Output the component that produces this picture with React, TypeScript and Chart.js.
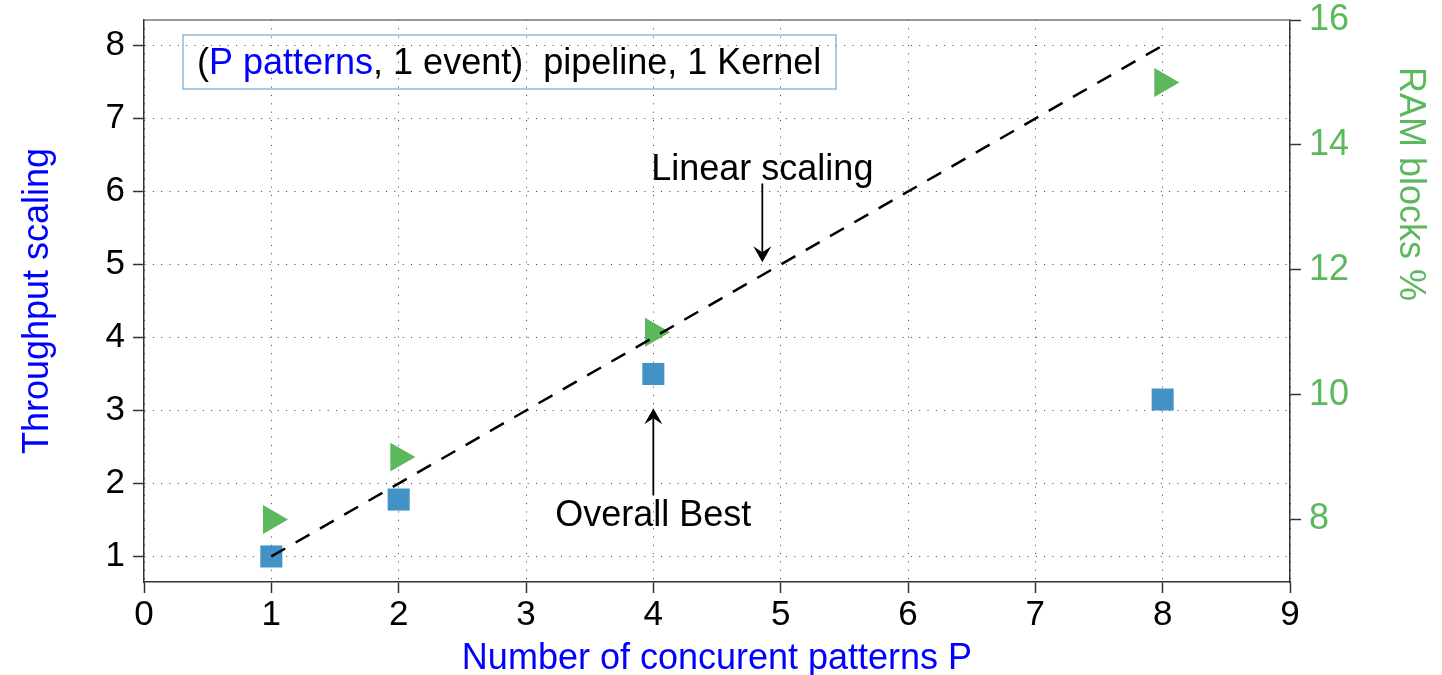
import React, { useEffect, useRef } from "react";
import { Chart, registerables } from "chart.js";

Chart.register(...registerables);

// ---------- data ----------
const patterns = [1, 2, 4, 8];
const throughputScaling = [1.0, 1.78, 3.5, 3.15];
const ramBlocksPct = [8, 9, 11, 15];
const linearScalingX = [1, 8];
const linearScalingY = [1, 8];

const xTickValues = [0, 1, 2, 3, 4, 5, 6, 7, 8, 9];
const leftTickValues = [1, 2, 3, 4, 5, 6, 7, 8];
const rightTickValues = [8, 10, 12, 14, 16];

const xTitle = "Number of concurent patterns P";
const leftTitle = "Throughput scaling";
const rightTitle = "RAM blocks %";
const legendParts = [
  { text: "(", blue: false },
  { text: "P patterns", blue: true },
  { text: ", 1 event)  pipeline, 1 Kernel", blue: false },
];
const annotationTexts = ["Linear scaling", "Overall Best"];
const annotationX = [4.856, 4];
const annotationTextY = [6.16, 1.42];
const annotationFromY = [6.11, 1.84];
const annotationToY = [5.03, 3.03];

// ---------- styles ----------
const FONT = "'Liberation Sans', Arial, Helvetica, sans-serif";
const BLUE_TEXT = "#0000ff";
const SQUARE_BLUE = "#4292c6";
const GREEN = "#5cb85c";
const AXIS_COLOR = "#333333";
const GRID_COLOR = "rgba(0,0,0,0.75)";

function drawArrow(ctx: CanvasRenderingContext2D, x: number, y1: number, y2: number) {
  const dir = Math.sign(y2 - y1) || 1;
  const headLen = 16;
  const headW = 9;
  const notch = 10;
  ctx.beginPath();
  ctx.moveTo(x, y1);
  ctx.lineTo(x, y2 - dir * notch);
  ctx.stroke();
  ctx.beginPath();
  ctx.moveTo(x, y2);
  ctx.lineTo(x - headW, y2 - dir * headLen);
  ctx.lineTo(x, y2 - dir * notch);
  ctx.lineTo(x + headW, y2 - dir * headLen);
  ctx.closePath();
  ctx.fill();
}

const overlayPlugin = {
  id: "overlay",
  afterDraw(chart: any) {
    const { ctx, chartArea, scales } = chart;
    const xs = scales.x;
    const ys = scales.y;
    ctx.save();

    // top frame line
    ctx.strokeStyle = "#777777";
    ctx.lineWidth = 1.5;
    ctx.beginPath();
    ctx.moveTo(chartArea.left, chartArea.top);
    ctx.lineTo(chartArea.right, chartArea.top);
    ctx.stroke();

    // legend box
    const bx = chartArea.left + 39;
    const by = chartArea.top + 15;
    ctx.strokeStyle = "#6fa8d6";
    ctx.lineWidth = 1.2;
    ctx.strokeRect(bx, by, 653, 54);
    ctx.font = `36px ${FONT}`;
    ctx.textBaseline = "alphabetic";
    ctx.textAlign = "left";
    let tx = bx + 14;
    const ty = by + 38.5;
    for (const part of legendParts) {
      ctx.fillStyle = part.blue ? BLUE_TEXT : "#000000";
      ctx.fillText(part.text, tx, ty);
      tx += ctx.measureText(part.text).width;
    }

    // annotations
    ctx.fillStyle = "#000000";
    ctx.strokeStyle = "#000000";
    ctx.lineWidth = 1.8;
    ctx.textAlign = "center";
    for (let i = 0; i < annotationTexts.length; i++) {
      const px = xs.getPixelForValue(annotationX[i]);
      ctx.fillText(annotationTexts[i], px, ys.getPixelForValue(annotationTextY[i]));
      drawArrow(ctx, px, ys.getPixelForValue(annotationFromY[i]), ys.getPixelForValue(annotationToY[i]));
    }

    // axis titles
    ctx.font = `36px ${FONT}`;
    ctx.fillStyle = BLUE_TEXT;
    ctx.textAlign = "center";
    ctx.fillText(xTitle, (chartArea.left + chartArea.right) / 2, 669);

    ctx.save();
    ctx.translate(47.5, (chartArea.top + chartArea.bottom) / 2);
    ctx.rotate(-Math.PI / 2);
    ctx.fillText(leftTitle, 0, 0);
    ctx.restore();

    ctx.save();
    ctx.fillStyle = GREEN;
    ctx.translate(1400, 184);
    ctx.rotate(Math.PI / 2);
    ctx.fillText(rightTitle, 0, 0);
    ctx.restore();

    ctx.restore();
  },
};

export default function App() {
  const canvasRef = useRef<HTMLCanvasElement | null>(null);

  useEffect(() => {
    const canvas = canvasRef.current;
    if (!canvas) return;
    Chart.defaults.font.family = FONT;

    const chart = new Chart(canvas, {
      type: "scatter",
      data: {
        datasets: [
          {
            type: "line",
            label: "Linear scaling",
            data: linearScalingX.map((x, i) => ({ x, y: linearScalingY[i] })),
            borderColor: "#000000",
            borderWidth: 2.5,
            borderDash: [16, 12],
            pointRadius: 0,
            fill: false,
            yAxisID: "y",
          } as any,
          {
            label: "Throughput scaling",
            data: patterns.map((x, i) => ({ x, y: throughputScaling[i] })),
            pointStyle: "rect",
            pointRadius: 15.6,
            pointBackgroundColor: SQUARE_BLUE,
            backgroundColor: SQUARE_BLUE,
            pointBorderWidth: 0,
            borderWidth: 0,
            yAxisID: "y",
          },
          {
            label: "RAM blocks %",
            data: patterns.map((x, i) => ({ x, y: ramBlocksPct[i] })),
            pointStyle: "triangle",
            pointRotation: 90,
            pointRadius: 16.7,
            pointBackgroundColor: GREEN,
            backgroundColor: GREEN,
            pointBorderWidth: 0,
            borderWidth: 0,
            yAxisID: "y1",
          },
        ],
      },
      options: {
        animation: false,
        responsive: false,
        devicePixelRatio: 1,
        events: [],
        layout: { padding: { top: 20, left: 0, right: 0, bottom: 0 } },
        plugins: {
          legend: { display: false },
          tooltip: { enabled: false },
          title: { display: false },
        },
        scales: {
          x: {
            type: "linear",
            position: "bottom",
            min: 0,
            max: 9,
            afterBuildTicks: (s: any) => {
              s.ticks = xTickValues.map((v) => ({ value: v }));
            },
            afterFit: (s: any) => {
              s.height = 93;
              s.paddingLeft = 0;
              s.paddingRight = 0;
            },
            ticks: {
              color: "#000000",
              font: { size: 35 },
              padding: 1,
              autoSkip: false,
              maxRotation: 0,
            },
            grid: {
              color: GRID_COLOR,
              lineWidth: 1,
              drawTicks: true,
              tickLength: 11,
              tickColor: AXIS_COLOR,
              tickWidth: 1.5,
              tickBorderDash: [],
            },
            border: { display: true, color: AXIS_COLOR, width: 1.5, dash: [1, 7.33] },
          },
          y: {
            type: "linear",
            position: "left",
            min: 0.65,
            max: 8.35,
            afterBuildTicks: (s: any) => {
              s.ticks = leftTickValues.map((v) => ({ value: v }));
            },
            afterFit: (s: any) => {
              s.width = 144;
              s.paddingTop = 0;
              s.paddingBottom = 0;
            },
            ticks: {
              color: "#000000",
              font: { size: 35 },
              padding: 8,
              autoSkip: false,
            },
            grid: {
              color: GRID_COLOR,
              lineWidth: 1,
              drawTicks: true,
              tickLength: 11,
              tickColor: AXIS_COLOR,
              tickWidth: 1.5,
              tickBorderDash: [],
            },
            border: { display: true, color: AXIS_COLOR, width: 1.5, dash: [1, 7.33] },
          },
          y1: {
            type: "linear",
            position: "right",
            min: 7,
            max: 16,
            afterBuildTicks: (s: any) => {
              s.ticks = rightTickValues.map((v) => ({ value: v }));
            },
            afterFit: (s: any) => {
              s.width = 152;
              s.paddingTop = 0;
              s.paddingBottom = 0;
            },
            ticks: {
              color: GREEN,
              font: { size: 36 },
              padding: 8,
              autoSkip: false,
            },
            grid: {
              drawOnChartArea: false,
              drawTicks: true,
              tickLength: 11,
              tickColor: AXIS_COLOR,
              tickWidth: 1.5,
              tickBorderDash: [],
            },
            border: { display: true, color: AXIS_COLOR, width: 1.5 },
          },
        },
      },
      plugins: [overlayPlugin],
    } as any);

    return () => chart.destroy();
  }, []);

  return (
    <div style={{ position: "absolute", left: 0, top: 0, width: 1442, height: 675, background: "#ffffff" }}>
      <canvas ref={canvasRef} width={1442} height={675} style={{ display: "block" }} />
    </div>
  );
}
